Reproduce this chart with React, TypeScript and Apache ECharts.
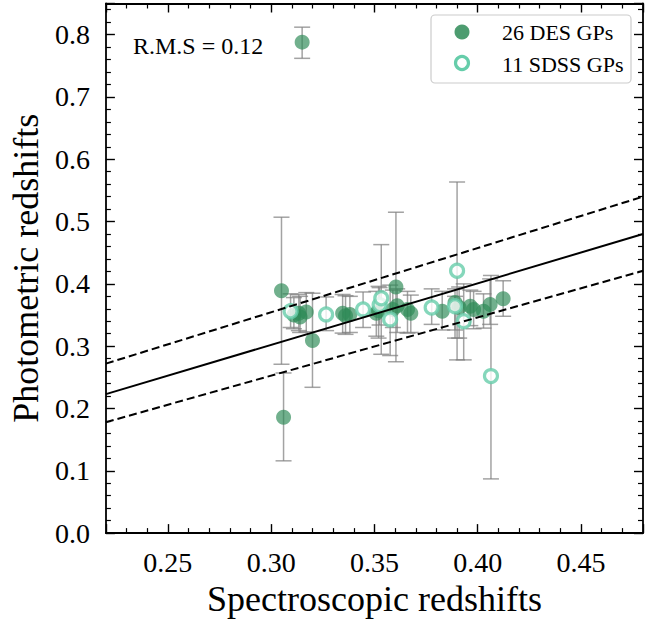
import React, { useEffect, useRef } from 'react';
import * as echarts from 'echarts';

// DES galaxy pairs: spectroscopic z, photometric z, error-bar low/high
const desX = [0.305, 0.306, 0.315, 0.3134, 0.317, 0.311, 0.320, 0.3346, 0.3381, 0.336, 0.3509, 0.3589, 0.3604, 0.366, 0.3676, 0.3828, 0.389, 0.3964, 0.398, 0.4028, 0.406, 0.4123, 0.352, 0.361, 0.391, 0.314];
const desY = [0.389, 0.186, 0.788, 0.353, 0.355, 0.350, 0.309, 0.353, 0.351, 0.349, 0.353, 0.359, 0.395, 0.359, 0.353, 0.356, 0.370, 0.364, 0.359, 0.356, 0.367, 0.376, 0.357, 0.365, 0.362, 0.347];
const desLo = [0.271, 0.116, 0.762, 0.325, 0.323, 0.328, 0.234, 0.321, 0.322, 0.319, 0.316, 0.330, 0.275, 0.321, 0.322, 0.326, 0.326, 0.333, 0.328, 0.329, 0.335, 0.348, 0.313, 0.322, 0.313, 0.322];
const desHi = [0.507, 0.257, 0.812, 0.383, 0.386, 0.378, 0.385, 0.383, 0.380, 0.381, 0.388, 0.390, 0.515, 0.388, 0.382, 0.388, 0.392, 0.390, 0.388, 0.384, 0.408, 0.405, 0.396, 0.392, 0.395, 0.380];

// SDSS galaxy pairs
const sdssX = [0.3094, 0.3266, 0.3445, 0.3525, 0.3533, 0.3576, 0.3777, 0.390, 0.389, 0.3932, 0.4064];
const sdssY = [0.356, 0.351, 0.359, 0.366, 0.377, 0.343, 0.362, 0.421, 0.364, 0.340, 0.252];
const sdssLo = [0.330, 0.325, 0.330, 0.334, 0.287, 0.285, 0.335, 0.278, 0.313, 0.278, 0.087];
const sdssHi = [0.384, 0.379, 0.387, 0.394, 0.463, 0.398, 0.392, 0.5635, 0.380, 0.400, 0.4135];

// reference lines (end points at the axis limits)
const lineX = [0.22, 0.48];
const oneToOneY = [0.223, 0.48];
const upperY = [0.272, 0.540];
const lowerY = [0.178, 0.421];

const legendLabels = ['26 DES GPs', '11 SDSS GPs'];
const rmsLabel = 'R.M.S = 0.12';
const xTitle = 'Spectroscopic redshifts';
const yTitle = 'Photometric redshifts';

const FONT = "'Liberation Serif', 'Times New Roman', serif";
const DES_COLOR = 'rgba(46,139,87,0.85)';
const SDSS_COLOR = '#66cdaa';

function errorBarRender(params: any, api: any) {
  const x = api.value(0);
  const lo = api.coord([x, api.value(1)]);
  const hi = api.coord([x, api.value(2)]);
  const hw = 8;
  const style = { stroke: 'rgba(128,128,128,0.72)', lineWidth: 1.5 };
  return {
    type: 'group',
    children: [
      { type: 'line', shape: { x1: lo[0], y1: lo[1], x2: hi[0], y2: hi[1] }, style },
      { type: 'line', shape: { x1: lo[0] - hw, y1: lo[1], x2: lo[0] + hw, y2: lo[1] }, style },
      { type: 'line', shape: { x1: hi[0] - hw, y1: hi[1], x2: hi[0] + hw, y2: hi[1] }, style },
    ],
  };
}

export default function App() {
  const ref = useRef<HTMLDivElement>(null);
  useEffect(() => {
    const chart = echarts.init(ref.current!, null, { renderer: 'svg' });
    const axisLineStyle = { color: '#000', width: 1.8 };
    const tickCommon = { show: true, inside: true, length: 9, lineStyle: { color: '#000', width: 1.4 } };
    const minorCommon = { show: true, splitNumber: 5, length: 5, lineStyle: { color: '#000', width: 1.2 } };
    const xBase = { type: 'value', min: 0.22, max: 0.48, splitNumber: 5, splitLine: { show: false }, axisLine: { show: true, onZero: false, lineStyle: axisLineStyle }, axisTick: tickCommon, minorTick: minorCommon };
    const yBase = { type: 'value', min: 0, max: 0.85, interval: 0.1, splitLine: { show: false }, axisLine: { show: true, onZero: false, lineStyle: axisLineStyle }, axisTick: tickCommon, minorTick: minorCommon };
    const labelStyle = { color: '#000', fontFamily: FONT, fontSize: 28 };
    const option: any = {
      animation: false,
      grid: { left: 100, right: 20, top: 3.5, bottom: 76.5, containLabel: false },
      xAxis: [
        {
          ...xBase, position: 'bottom',
          axisLabel: { ...labelStyle, margin: 15, showMinLabel: false, showMaxLabel: false, formatter: (v: number) => v.toFixed(2) },
          name: xTitle, nameLocation: 'middle', nameGap: 40,
          nameTextStyle: { color: '#000', fontFamily: FONT, fontSize: 36 },
        },
        { ...xBase, position: 'top', axisLabel: { show: false } },
      ],
      yAxis: [
        {
          ...yBase, position: 'left',
          axisLabel: { ...labelStyle, margin: 16, showMaxLabel: false, formatter: (v: number) => v.toFixed(1) },
          name: yTitle, nameLocation: 'middle', nameGap: 46,
          nameTextStyle: { color: '#000', fontFamily: FONT, fontSize: 36 },
        },
        { ...yBase, position: 'right', axisLabel: { show: false } },
      ],
      series: [
        { type: 'custom', name: 'desErr', renderItem: errorBarRender, data: desX.map((x, i) => [x, desLo[i], desHi[i]]), z: 1, silent: true },
        { type: 'custom', name: 'sdssErr', renderItem: errorBarRender, data: sdssX.map((x, i) => [x, sdssLo[i], sdssHi[i]]), z: 1, silent: true },
        { type: 'scatter', name: legendLabels[0], data: desX.map((x, i) => [x, desY[i]]), symbolSize: 15, itemStyle: { color: DES_COLOR }, z: 2 },
        { type: 'scatter', name: legendLabels[1], data: sdssX.map((x, i) => [x, sdssY[i]]), symbolSize: 13, itemStyle: { color: '#fff', borderColor: SDSS_COLOR, borderWidth: 3.2 }, z: 3 },
        { type: 'line', data: lineX.map((x, i) => [x, oneToOneY[i]]), symbol: 'none', lineStyle: { color: '#000', width: 2 }, z: 4 },
        { type: 'line', data: lineX.map((x, i) => [x, upperY[i]]), symbol: 'none', lineStyle: { color: '#000', width: 2, type: [8, 4] }, z: 4 },
        { type: 'line', data: lineX.map((x, i) => [x, lowerY[i]]), symbol: 'none', lineStyle: { color: '#000', width: 2, type: [8, 4] }, z: 4 },
      ],
      graphic: [
        { type: 'text', left: 133, top: 34, style: { text: rmsLabel, fill: '#000', font: `24px ${FONT}` }, z: 10 },
        {
          type: 'group', z: 20, children: [
            { type: 'rect', shape: { x: 431, y: 15, width: 200, height: 68, r: 4 }, style: { fill: 'rgba(255,255,255,0.8)', stroke: '#cccccc', lineWidth: 1.2 } },
            { type: 'circle', shape: { cx: 462, cy: 32, r: 7.5 }, style: { fill: DES_COLOR } },
            { type: 'circle', shape: { cx: 462, cy: 63, r: 6.5 }, style: { fill: '#fff', stroke: SDSS_COLOR, lineWidth: 3.2 } },
            { type: 'text', x: 502, y: 32, style: { text: legendLabels[0], fill: '#000', font: `22px ${FONT}`, verticalAlign: 'middle' } },
            { type: 'text', x: 502, y: 64, style: { text: legendLabels[1], fill: '#000', font: `22px ${FONT}`, verticalAlign: 'middle' } },
          ],
        },
      ],
    };
    chart.setOption(option);
    return () => chart.dispose();
  }, []);
  return <div ref={ref} style={{ position: 'absolute', left: 0, top: 0, width: 663, height: 622 }} />;
}
